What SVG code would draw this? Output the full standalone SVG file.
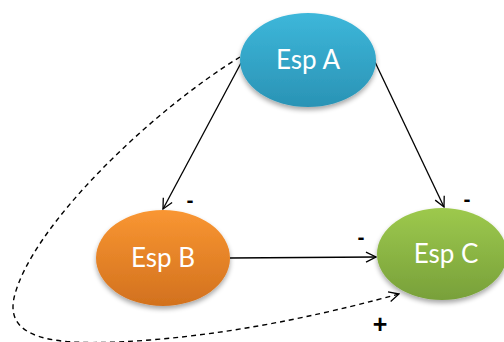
<svg xmlns="http://www.w3.org/2000/svg" width="504" height="342" viewBox="0 0 504 342">
<style>
.lbl{font-family:Lato,"Open Sans","Liberation Sans",sans-serif;font-size:26px;fill:#fff;text-anchor:middle}
.sign{font-family:"Liberation Sans",Arial,sans-serif;font-size:21px;fill:#000;text-anchor:middle;font-weight:bold}
.plus{font-size:25px}
.edge{fill:none;stroke:#000;stroke-width:1.3}
.dash{stroke-dasharray:5,4;stroke-width:1.4}
</style>
<defs>
<linearGradient id="gA" x1="0" y1="0" x2="0" y2="1"><stop offset="0" stop-color="#3DB7DA"/><stop offset="1" stop-color="#2A93B5"/></linearGradient>
<linearGradient id="gB" x1="0" y1="0" x2="0" y2="1"><stop offset="0" stop-color="#F99632"/><stop offset="1" stop-color="#D2711E"/></linearGradient>
<linearGradient id="gC" x1="0" y1="0" x2="0" y2="1"><stop offset="0" stop-color="#9DC94D"/><stop offset="1" stop-color="#78A03A"/></linearGradient>
<filter id="sh" x="-20%" y="-20%" width="140%" height="150%"><feGaussianBlur in="SourceAlpha" stdDeviation="2.5"/><feOffset dy="3"/><feComponentTransfer><feFuncA type="linear" slope="0.35"/></feComponentTransfer><feMerge><feMergeNode/><feMergeNode in="SourceGraphic"/></feMerge></filter>
<marker id="ar" viewBox="0 0 12 12" refX="11" refY="6" markerWidth="12" markerHeight="12" markerUnits="userSpaceOnUse" orient="auto"><path d="M1,1 L11,6 L1,11" fill="none" stroke="#000" stroke-width="1.3"/></marker>
</defs>
<g id="connectors">
<path class="edge" d="M241,63 L163,209" marker-end="url(#ar)"/>
<path class="edge" d="M375,62 L444,207" marker-end="url(#ar)"/>
<path class="edge" d="M230,258 L376,257" marker-end="url(#ar)"/>
<path class="edge dash" d="M240,57 C150,112 30,228 14,298 C4,345 70,346 150,340 C250,332 340,310 399,294" marker-end="url(#ar)"/>
</g>
<g id="espA"><ellipse cx="308" cy="60" rx="68" ry="47" fill="url(#gA)" filter="url(#sh)"/><text class="lbl" x="308" y="69">Esp A</text></g>
<g id="espB"><ellipse cx="163" cy="258" rx="67" ry="48" fill="url(#gB)" filter="url(#sh)"/><text class="lbl" x="163" y="267">Esp B</text></g>
<g id="espC"><ellipse cx="442" cy="254" rx="65" ry="46" fill="url(#gC)" filter="url(#sh)"/><text class="lbl" x="446" y="263">Esp C</text></g>
<g id="signs">
<text class="sign" x="190" y="207">-</text>
<text class="sign" x="467" y="206">-</text>
<text class="sign" x="361" y="244">-</text>
<text class="sign plus" x="380" y="333">+</text>
</g>
</svg>
